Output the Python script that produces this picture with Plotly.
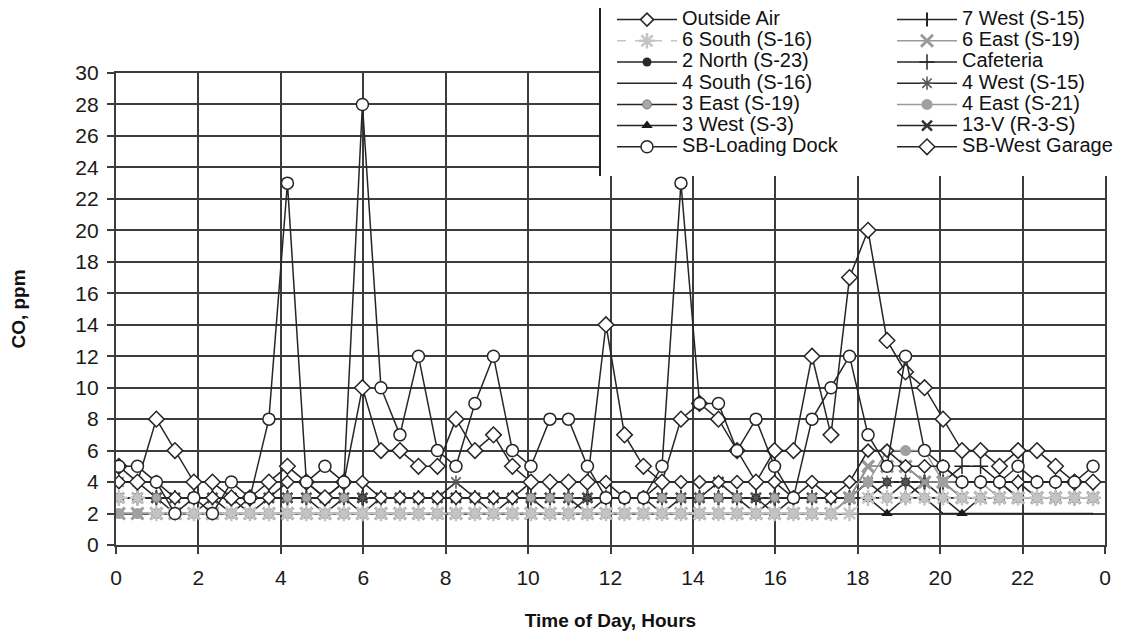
import plotly.graph_objects as go

hours = [0.07, 0.52, 0.98, 1.43, 1.89, 2.34, 2.80, 3.25, 3.71, 4.16,
         4.62, 5.07, 5.53, 5.98, 6.43, 6.89, 7.34, 7.80, 8.25, 8.71,
         9.16, 9.62, 10.07, 10.53, 10.98, 11.44, 11.89, 12.34, 12.80, 13.25,
         13.71, 14.16, 14.62, 15.07, 15.53, 15.98, 16.44, 16.89, 17.35, 17.80,
         18.25, 18.71, 19.16, 19.62, 20.07, 20.53, 20.98, 21.44, 21.89, 22.35,
         22.80, 23.26, 23.71]

outside_air = [4,4,4,3,3,3,3,3,3,4, 4,3,4,4,3,3,3,3,3,3, 3,3,4,4,4,4,4,3,3,4,
               4,4,4,4,4,4,3,4,3,4, 6,6,5,5,5,4,4,4,4,4, 4,4,4]
six_south = [3,3,2,2,2,2,2,2,2,2, 2,2,2,2,2,2,2,2,2,2, 2,2,2,2,2,2,2,2,2,2,
             2,2,2,2,2,2,2,2,2,2, 3,3,3,3,3,3,3,3,3,3, 3,3,3]
two_north = [3,3,3,3,3,3,3,3,3,3, 3,3,3,3,3,3,3,3,3,3, 3,3,3,3,3,3,3,3,3,3,
             3,3,3,3,3,3,3,3,3,3, 3,4,4,4,3,3,3,3,3,3, 3,3,3]
four_south = [2,2,2,2,2,2,2,2,2,2, 2,2,2,2,2,2,2,2,2,2, 2,2,2,2,2,2,2,2,2,2,
              2,2,2,2,2,2,2,2,2,3, 4,4,4,3,2,2,2,2,2,2, 2,2,2]
three_east = [3,3,3,3,3,3,3,2,3,3, 3,3,3,2,3,3,3,3,3,3, 3,3,3,3,3,2,3,3,3,3,
              3,3,3,3,2,3,3,3,3,3, 4,3,3,3,3,3,3,3,3,3, 3,3,3]
three_west = [3,3,3,2,2,3,2,3,3,3, 3,2,3,3,3,3,3,3,3,3, 2,3,3,2,2,3,3,3,3,2,
              3,3,3,3,3,2,3,3,3,3, 3,2,3,3,3,2,3,3,3,3, 3,3,3]
sb_loading_dock = [5,5,4,2,3,2,4,3,8,23, 4,5,4,28,10,7,12,6,5,9, 12,6,5,8,8,5,3,3,3,5,
                   23,9,9,6,8,5,3,8,10,12, 7,5,12,6,5,4,4,4,5,4, 4,4,5]
seven_west = [3,3,3,3,3,3,3,3,3,3, 3,3,3,3,3,3,3,3,3,3, 3,3,3,3,3,3,3,3,3,3,
              3,3,3,3,3,3,3,3,3,3, 3,3,3,4,4,4,4,4,3,3, 3,3,3]
six_east = [2,2,2,2,2,2,2,2,2,2, 2,2,2,2,2,2,2,2,2,2, 2,2,2,2,2,2,2,2,2,2,
            2,2,2,2,2,2,2,2,2,3, 5,5,5,4,4,3,3,3,3,3, 3,3,3]
cafeteria = [3,3,3,3,3,3,3,3,3,3, 3,3,3,3,3,3,3,3,3,3, 3,3,3,3,3,3,3,3,3,3,
             3,3,3,3,3,3,3,3,3,3, 3,3,4,4,4,5,5,4,4,3, 3,3,3]
four_west = [4,4,3,3,3,3,3,3,3,3, 3,3,3,3,3,3,3,3,4,3, 3,3,3,3,3,3,3,3,3,3,
             3,3,3,3,3,3,3,3,3,3, 4,4,4,4,4,4,4,4,3,3, 3,3,3]
four_east = [2,2,2,2,2,2,2,2,2,2, 2,2,2,2,2,2,2,2,2,2, 2,2,2,2,2,2,2,2,2,2,
             2,2,2,2,2,2,2,2,2,3, 4,6,6,6,4,4,4,3,3,3, 3,3,3]
thirteen_v = [3,3,3,3,3,3,3,3,3,3, 3,3,3,3,3,3,3,3,3,3, 3,3,3,3,3,3,3,3,3,3,
              3,3,4,3,3,3,3,3,3,3, 5,5,5,4,4,3,3,3,3,3, 3,3,3]
sb_west_garage = [5,4,8,6,4,4,3,3,4,5, 4,3,4,10,6,6,5,5,8,6, 7,5,4,4,4,4,14,7,5,4,
                  8,9,8,6,4,6,6,12,7,17, 20,13,11,10,8,6,6,5,6,6, 5,4,4]

x_tickvals = [0, 2, 4, 6, 8, 10, 12, 14, 16, 18, 20, 22, 24]
x_ticktext = ["0", "2", "4", "6", "8", "10", "12", "14", "16", "18", "20", "22", "0"]
y_tickvals = list(range(0, 31, 2))

DARK = "#262626"
GRAY = "#9a9a9a"
LIGHT = "#c4c4c4"
GRID = "#3c3c3c"

fig = go.Figure()

def big(name):
    return "<span style='font-size:20px'>" + name + "</span>"

def add(name, y, legend, rank, line_color, marker=None, dash="solid", width=1.5, mode="lines+markers"):
    kw = dict(x=hours, y=y, name=big(name), legend=legend, legendrank=rank,
              line=dict(color=line_color, width=width, dash=dash), mode=mode)
    if marker is not None:
        kw["marker"] = marker
    fig.add_trace(go.Scatter(**kw))

# dark band series first (drawn underneath)
add("4 South (S-16)", four_south, "legend", 4, DARK, mode="lines")
add("7 West (S-15)", seven_west, "legend2", 1, DARK, dict(symbol="line-ns", size=10, color=DARK, line=dict(color=DARK, width=2)))
add("Cafeteria", cafeteria, "legend2", 3, DARK, dict(symbol="cross-thin", size=11, color=DARK, line=dict(color=DARK, width=1.5)))
add("13-V (R-3-S)", thirteen_v, "legend2", 6, DARK, dict(symbol="x-thin", size=10, color="#333", line=dict(color="#333", width=2.5)))
add("2 North (S-23)", two_north, "legend", 3, DARK, dict(symbol="circle", size=9, color="#2a2a2a"))
add("3 West (S-3)", three_west, "legend", 6, DARK, dict(symbol="triangle-up", size=10, color="#1a1a1a"))
add("4 West (S-15)", four_west, "legend2", 4, DARK, dict(symbol="asterisk-open", size=11, color="#555", line=dict(color="#555", width=1.5)))
# grey band series on top of the dark ones
add("3 East (S-19)", three_east, "legend", 5, DARK, dict(symbol="circle", size=9, color="#a8a8a8", line=dict(color="#777", width=1)))
add("6 East (S-19)", six_east, "legend2", 2, GRAY, dict(symbol="x-thin", size=12, color=GRAY, line=dict(color=GRAY, width=3)))
add("4 East (S-21)", four_east, "legend2", 5, GRAY, dict(symbol="circle", size=11, color="#a0a0a0"))
add("6 South (S-16)", six_south, "legend", 2, LIGHT, dict(symbol="asterisk-open", size=13, color=LIGHT, line=dict(color="#b8b8b8", width=2.5)), dash="dash")
# main series on top
add("Outside Air", outside_air, "legend", 1, DARK, dict(symbol="diamond", size=10, color="white", line=dict(color=DARK, width=1.5)))
add("SB-West Garage", sb_west_garage, "legend2", 7, DARK, dict(symbol="diamond", size=12, color="white", line=dict(color=DARK, width=1.5)))
add("SB-Loading Dock", sb_loading_dock, "legend", 7, DARK, dict(symbol="circle", size=12, color="white", line=dict(color=DARK, width=1.5)))

# page body has an 8px default margin: work in screen pixels, convert to figure pixels
OFF = 8
W, H = 1121 - OFF, 636 - OFF
L = 116 - OFF          # plot left at screen x 116
T = 73 - OFF           # plot top at screen y 73
PR = 1105 - OFF        # plot right at screen x 1105
PB = 545 - OFF         # plot bottom at screen y 545
R = W - PR
B = H - PB
pw = PR - L
ph = PB - T

def px_x(p):
    return (p - OFF - L) / pw

def px_y(p):
    return (PB - (p - OFF)) / ph

font_family = "Arial, Liberation Sans, sans-serif"

fig.update_layout(
    width=W, height=H,
    margin=dict(l=L, r=R, t=T, b=B, autoexpand=False),
    paper_bgcolor="white", plot_bgcolor="white",
    font=dict(family=font_family, color="#111111"),
    xaxis=dict(range=[0, 24], tickvals=x_tickvals, ticktext=x_ticktext,
               showgrid=True, gridcolor=GRID, gridwidth=2.2,
               showline=True, linecolor=GRID, linewidth=2.2, mirror=True,
               ticks="outside", ticklen=7, tickwidth=2, tickcolor=GRID,
               tickfont=dict(size=21, color="#1a1a1a"), ticklabelstandoff=6,
               zeroline=False,
               title=dict(text="<b>Time of Day, Hours</b>", font=dict(size=19, color="#111"), standoff=25)),
    yaxis=dict(range=[0, 30], tickvals=y_tickvals,
               showgrid=True, gridcolor=GRID, gridwidth=2.2,
               showline=True, linecolor=GRID, linewidth=2.2, mirror=True,
               ticks="outside", ticklen=7, tickwidth=2, tickcolor=GRID,
               tickfont=dict(size=21, color="#1a1a1a"), ticklabelstandoff=4,
               zeroline=False,
               title=dict(text="<b>CO, ppm</b>", font=dict(size=19, color="#111"), standoff=46)),
    legend=dict(x=px_x(612), y=px_y(4), xanchor="left", yanchor="top",
                bgcolor="rgba(0,0,0,0)", font=dict(size=14, color="#111"),
                itemwidth=60, traceorder="normal", tracegroupgap=0),
    legend2=dict(x=px_x(892), y=px_y(4), xanchor="left", yanchor="top",
                 bgcolor="rgba(0,0,0,0)", font=dict(size=14, color="#111"),
                 itemwidth=60, traceorder="normal", tracegroupgap=0),
    shapes=[
        dict(type="rect", xref="paper", yref="paper", x0=px_x(600), x1=px_x(1130),
             y0=px_y(176), y1=px_y(-5), fillcolor="white", line=dict(width=0), layer="above"),
        dict(type="line", xref="paper", yref="paper", x0=px_x(600), x1=px_x(600),
             y0=px_y(176), y1=px_y(-5), line=dict(color="#222", width=2), layer="above"),
    ],
    showlegend=True,
)

fig.write_html("out.html")
